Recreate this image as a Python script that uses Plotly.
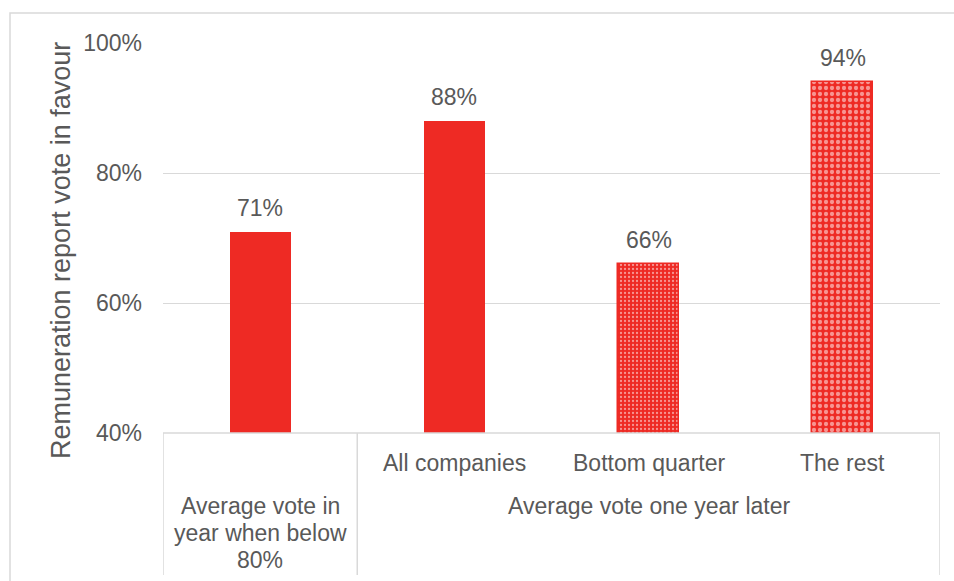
import plotly.graph_objects as go

categories = ["Average vote in year when below 80%", "All companies", "Bottom quarter", "The rest"]
values = [71, 88, 66, 94]
value_labels = ["71%", "88%", "66%", "94%"]
sub_labels = ["", "All companies", "Bottom quarter", "The rest"]
group_left_lines = ["Average vote in", "year when below", "80%"]
group_right = "Average vote one year later"
y_ticks = [40, 60, 80, 100]
y_tick_text = ["40%", "60%", "80%", "100%"]
y_title = "Remuneration report vote in favour"

RED = "#EE2A24"
TXT = "#595959"
GRID = "#D9D9D9"
FONT = "Liberation Sans, Arial, sans-serif"
FS = 23

W, H = 954, 581
L, R, T, B = 163, 14, 43, 148
pw, ph = W - L - R, H - T - B

def px_x(p):
    return (p - L) / pw

def px_y(p):
    return (H - B - p) / ph

fig = go.Figure()

patterns = [
    dict(shape=""),
    dict(shape=""),
    dict(shape=".", fgcolor="white", bgcolor=RED, size=4, solidity=0.25, fillmode="overlay"),
    dict(shape=".", fgcolor="white", bgcolor=RED, size=6, solidity=0.4, fillmode="overlay"),
]
for i, (c, v) in enumerate(zip(categories, values)):
    fig.add_trace(go.Bar(
        x=[c], y=[v], width=0.315,
        marker=dict(color=RED, line=dict(color=RED, width=1.5 if i >= 2 else 0), pattern=patterns[i]),
        showlegend=False, hoverinfo="skip",
    ))

fig.update_xaxes(
    categoryorder="array", categoryarray=categories, range=[-0.5, 3.5],
    showticklabels=False, showgrid=False, zeroline=False, showline=False,
)
fig.update_yaxes(
    range=[40, 100], tickvals=y_ticks, ticktext=y_tick_text,
    showgrid=True, gridcolor=GRID, gridwidth=1, zeroline=False, showline=False,
    tickfont=dict(family=FONT, size=FS, color=TXT), ticks="", ticklabelstandoff=20,
)

shapes = []
shapes.append(dict(type="rect", xref="paper", yref="paper",
                   x0=px_x(10), x1=px_x(990), y0=px_y(620), y1=px_y(13),
                   line=dict(color=GRID, width=1.5), fillcolor="rgba(0,0,0,0)", layer="below"))
shapes.append(dict(type="line", xref="paper", yref="paper", x0=0, x1=1, y0=0, y1=0,
                   line=dict(color=GRID, width=1.5)))
for xi in [-0.5, 0.5, 3.5]:
    shapes.append(dict(type="line", xref="x", yref="paper", x0=xi, x1=xi,
                       y0=px_y(575), y1=0, line=dict(color=GRID, width=1.5)))

annotations = []
annotations.append(dict(x=px_x(61), y=px_y(251), xref="paper", yref="paper", text=y_title,
                        textangle=-90, showarrow=False, xanchor="center", yanchor="middle",
                        font=dict(family=FONT, size=27, color=TXT)))
for c, v, lab in zip(categories, values, value_labels):
    annotations.append(dict(x=c, y=v, xref="x", yref="y", text=lab, showarrow=False,
                            font=dict(family=FONT, size=FS, color=TXT), yanchor="bottom", yshift=9))
for c, s in zip(categories, sub_labels):
    if s:
        annotations.append(dict(x=c, y=px_y(463), xref="x", yref="paper", text=s, showarrow=False,
                                font=dict(family=FONT, size=FS, color=TXT), yanchor="middle"))
for k, line in enumerate(group_left_lines):
    annotations.append(dict(x=categories[0], y=px_y(506 + 27 * k), xref="x", yref="paper", text=line,
                            showarrow=False, font=dict(family=FONT, size=FS, color=TXT), yanchor="middle"))
annotations.append(dict(x=2, y=px_y(506), xref="x", yref="paper", text=group_right,
                        showarrow=False, font=dict(family=FONT, size=FS, color=TXT), yanchor="middle"))

fig.update_layout(
    width=W, height=H, margin=dict(l=L, r=R, t=T, b=B),
    plot_bgcolor="white", paper_bgcolor="white",
    shapes=shapes, annotations=annotations, bargap=0,
    font=dict(family=FONT, color=TXT),
)

fig.write_html("out.html", config={"displayModeBar": False},
               post_script="document.body.style.margin='0';document.body.style.overflow='hidden';")
